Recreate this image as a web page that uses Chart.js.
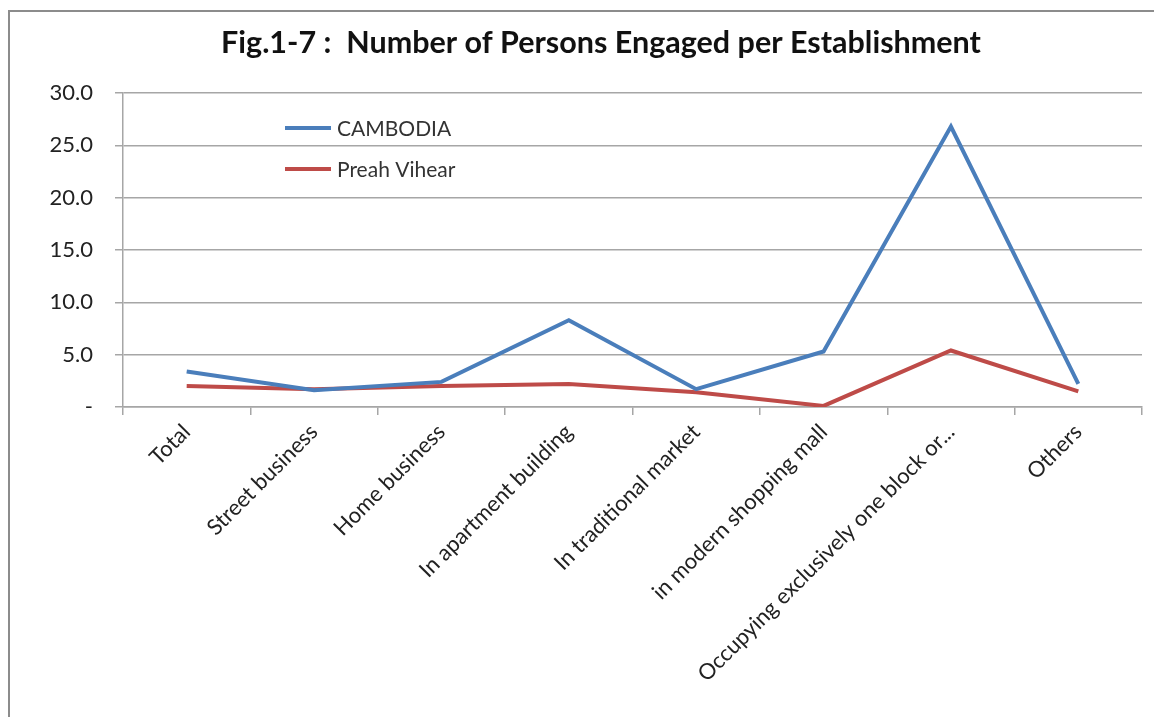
<!DOCTYPE html>
<html>
<head>
<meta charset="utf-8">
<script src="https://cdn.jsdelivr.net/npm/chart.js@4"></script>
<style>
  html, body { margin: 0; padding: 0; background: #fff; overflow: hidden; }
  #frame {
    position: absolute; left: 8px; top: 10px; width: 1160px; height: 720px;
    border-left: 2px solid #8c8c8c; border-top: 2px solid #8c8c8c;
  }
  #wrap { position: absolute; left: 0; top: 0; width: 1154px; height: 717px; }
</style>
</head>
<body>
<div id="frame"></div>
<div id="wrap"><canvas id="chart"></canvas></div>
<script>
const categories = [
    'Total',
    'Street business',
    'Home business',
    'In apartment building',
    'In traditional market',
    'in modern shopping mall',
    'Occupying exclusively one block or...',
    'Others'
];
const cambodia    = [3.4, 1.6, 2.4, 8.3, 1.7, 5.3, 26.8, 2.2];
const preahVihear = [2.0, 1.7, 2.0, 2.2, 1.4, 0.1, 5.4, 1.5];
const yTicks = [0, 5, 10, 15, 20, 25, 30];
const chartTitle = 'Fig.1-7 :  Number of Persons Engaged per Establishment';

const FONT = 'Lato, "Open Sans", sans-serif';

// title sits a bit right of the canvas centre in the original, so draw it by hand
const titleText = {
    id: 'titleText',
    afterDraw(chart) {
        const { ctx } = chart;
        ctx.save();
        ctx.font = 'bold 30.5px ' + FONT;
        ctx.fillStyle = '#111';
        ctx.textAlign = 'center';
        ctx.textBaseline = 'middle';
        ctx.fillText(chartTitle, 601, 43);
        ctx.restore();
    }
};

// legend drawn inside the plot, like the Excel original
const insideLegend = {
    id: 'insideLegend',
    afterDatasetsDraw(chart) {
        const { ctx, chartArea } = chart;
        const x0 = chartArea.left + 162;
        const y0 = chartArea.top + 35;
        ctx.save();
        ctx.font = '21px ' + FONT;
        ctx.textBaseline = 'middle';
        chart.data.datasets.forEach((ds, i) => {
            const y = y0 + i * 41;
            ctx.strokeStyle = ds.borderColor;
            ctx.lineWidth = 4;
            ctx.beginPath();
            ctx.moveTo(x0, y);
            ctx.lineTo(x0 + 46, y);
            ctx.stroke();
            ctx.fillStyle = '#333';
            ctx.fillText(ds.label, x0 + 52, y + 1);
        });
        ctx.restore();
    }
};

new Chart(document.getElementById('chart'), {
    type: 'line',
    data: {
        labels: categories,
        datasets: [{
            label: 'CAMBODIA',
            data: cambodia,
            borderColor: '#4a7ebb',
            borderWidth: 4,
            pointRadius: 0,
            tension: 0
        }, {
            label: 'Preah Vihear',
            data: preahVihear,
            borderColor: '#be4b48',
            borderWidth: 4,
            pointRadius: 0,
            tension: 0
        }]
    },
    options: {
        responsive: true,
        maintainAspectRatio: false,
        animation: false,
        layout: { padding: { left: 0, right: 12, top: 93, bottom: 0 } },
        plugins: {
            legend: { display: false },
            tooltip: { enabled: false },
            title: { display: false }
        },
        scales: {
            x: {
                offset: true,
                grid: { offset: true, drawOnChartArea: false, drawTicks: true, tickLength: 8, color: '#a6a6a6', lineWidth: 1.5 },
                border: { color: '#a6a6a6', width: 1.5 },
                ticks: {
                    autoSkip: false, maxRotation: 45, minRotation: 45,
                    color: '#222', padding: 4,
                    font: { family: FONT, size: 22 }
                },
                afterFit: s => { s.height = 717 - 407; }
            },
            y: {
                min: 0, max: 30,
                afterBuildTicks: s => { s.ticks = yTicks.map(v => ({ value: v })); },
                grid: { color: '#a6a6a6', lineWidth: 1.5, tickLength: 8 },
                border: { color: '#a6a6a6', width: 1.5 },
                ticks: {
                    color: '#222', padding: 22,
                    font: { family: FONT, size: 22 },
                    callback: v => v === 0 ? '-' : v.toFixed(1)
                },
                afterFit: s => { s.width = 123; }
            }
        }
    },
    plugins: [insideLegend, titleText]
});
</script>
</body>
</html>
